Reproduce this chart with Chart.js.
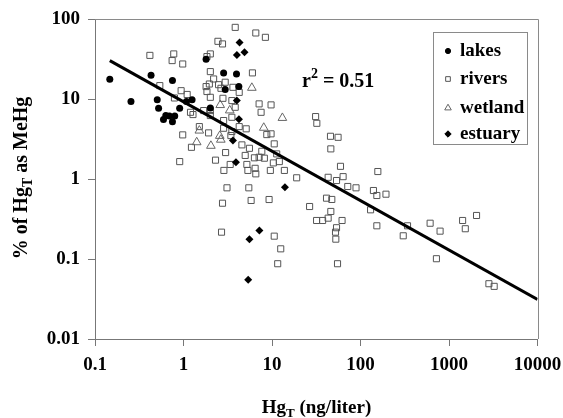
<!DOCTYPE html>
<html><head><meta charset="utf-8">
<script src="https://cdn.jsdelivr.net/npm/chart.js@4/dist/chart.umd.min.js"></script>
<style>html,body{margin:0;padding:0;background:#fff;}#wrap{width:563px;height:418px;position:relative;}</style>
</head><body><div id="wrap"><canvas id="c" width="563" height="418"></canvas></div>
<script>
const seriesNames = ['lakes', 'rivers', 'wetland', 'estuary'];

const lakesX = [0.147, 0.255, 0.43, 0.505, 0.523, 0.594, 0.631, 0.693, 0.75, 0.796, 0.75, 0.905, 1.08, 1.25, 1.8, 2.84, 3.97, 2.96, 4.22, 2.01];
const lakesY = [17.6, 9.3, 19.8, 9.8, 7.65, 5.53, 6.2, 6.15, 5.18, 6.15, 17, 7.65, 9.3, 9.8, 31.4, 21.2, 20.6, 13.1, 14.3, 7.74];

const riversX = [3.84, 6.56, 8.42, 2.45, 2.76, 2.01, 1.84, 0.417, 0.776, 0.744, 0.98, 6.01, 2.01, 2.19, 1.96, 2.49, 2.96, 2.65, 1.80, 3.62,
  4.26, 1.84, 2.01, 2.79, 3.52, 3.84, 7.15, 9.76, 7.53, 2.01, 2.01, 2.84, 3.52, 1.28, 0.54, 0.94, 1.10, 0.79, 1.20, 1.51,
  1.69, 0.98, 1.23, 0.906, 1.92, 2.84, 4.26, 5.11, 3.52, 3.43, 4.57, 2.99, 2.30, 3.37, 2.86, 5.56, 4.98, 6.33, 5.20, 5.34,
  6.45, 6.56, 8.2, 9.58, 10.36, 8.73, 9.76, 10.6, 11.3, 7.67, 7.15, 3.10, 5.47, 2.76, 5.81, 9.27, 2.69, 10.6, 12.55, 11.6,
  12.1, 13.8, 19.0, 31.1, 32.1, 45.8, 55.8, 46.2, 59.4, 63.6, 53.6, 43.1, 71.8, 89, 157, 140, 153, 194, 130, 41.3,
  47.4, 26.6, 46.2, 31.9, 37.3, 43.1, 61.9, 53.6, 52.2, 52.6, 55, 153, 304, 340, 612, 793, 1425, 1528, 2048, 721,
  2824, 3239];
const riversY = [78.6, 66.9, 59, 52.6, 48.8, 36.6, 33.9, 35.1, 36.6, 30.2, 27.4, 21.2, 22, 17.8, 15.4, 15.1, 16.2, 13.6, 14.3, 14.0,
  12.1, 12.4, 10.5, 10.2, 9.55, 7.88, 8.69, 8.44, 6.82, 7.17, 6.21, 5.38, 5.91, 6.39, 14.7, 12.7, 11.4, 10.3, 6.82, 4.52,
  7.17, 3.56, 2.49, 1.65, 3.77, 4.31, 4.52, 4.24, 3.92, 3.49, 2.67, 2.14, 1.72, 1.52, 1.28, 2.42, 1.97, 1.84, 1.52, 1.28,
  1.36, 1.16, 1.82, 1.28, 1.59, 3.59, 3.67, 2.75, 2.06, 2.22, 1.87, 0.776, 0.776, 0.498, 0.539, 0.554, 0.2165, 0.193, 0.134, 0.0873,
  1.65, 1.28, 1.035, 6.03, 4.97, 3.42, 3.32, 2.38, 1.44, 1.07, 0.957, 1.05, 0.806, 0.776, 1.24, 0.718, 0.622, 0.646, 0.412, 0.576,
  0.555, 0.453, 0.393, 0.303, 0.303, 0.324, 0.303, 0.246, 0.2165, 0.177, 0.0873, 0.26, 0.195, 0.26, 0.28, 0.223, 0.303, 0.239, 0.35, 0.1008,
  0.0491, 0.0455];

const wetlandX = [5.92, 2.6, 3.33, 13.1, 8.07, 1.51, 1.41, 2.04, 2.57, 2.64];
const wetlandY = [13.8, 8.4, 7.2, 5.8, 4.37, 4.03, 2.88, 2.6, 3.46, 3.1];

const estuaryX = [4.3, 4.01, 4.89, 4.0, 4.23, 3.62, 3.91, 14.0, 7.2, 5.56, 5.38];
const estuaryY = [51, 35.6, 38.3, 9.55, 5.58, 3.03, 1.62, 0.79, 0.227, 0.177, 0.055];

const regressionX = [0.147, 10000];
const regressionY = [30.2, 0.0313];

const xTickValues = [0.1, 1, 10, 100, 1000, 10000];
const xTickLabels = ['0.1', '1', '10', '100', '1000', '10000'];
const yTickValues = [0.01, 0.1, 1, 10, 100];
const yTickLabels = ['0.01', '0.1', '1', '10', '100'];

const xTitleParts = [['Hg', 0], ['T', 1], [' (ng/liter)', 0]];
const yTitleParts = [['% of Hg', 0], ['T', 1], [' as MeHg', 0]];
const r2Parts = [['r', 0], ['2', 2], [' = 0.51', 0]];

const pts = (xs, ys) => xs.map((x, i) => ({ x: x, y: ys[i] }));
const FONT = 'Liberation Serif';

function drawParts(ctx, parts, x, y, size, align) {
  const big = 'bold ' + size + 'px "' + FONT + '"';
  const small = 'bold ' + Math.round(size * 0.68) + 'px "' + FONT + '"';
  let total = 0;
  const widths = parts.map(p => { ctx.font = p[1] ? small : big; const w = ctx.measureText(p[0]).width; total += w; return w; });
  let cx = align === 'center' ? x - total / 2 : x;
  ctx.textBaseline = 'middle';
  ctx.textAlign = 'left';
  parts.forEach((p, i) => {
    ctx.font = p[1] ? small : big;
    const dy = p[1] === 1 ? size * 0.3 : (p[1] === 2 ? -size * 0.38 : 0);
    ctx.fillText(p[0], cx, y + dy);
    cx += widths[i];
  });
}

const decor = {
  id: 'decor',
  beforeDatasetsDraw(chart) {
    const ctx = chart.ctx, a = chart.chartArea;
    ctx.save();
    ctx.strokeStyle = '#8a8a8a';
    ctx.lineWidth = 1;
    ctx.beginPath();
    ctx.moveTo(a.left, Math.round(a.top) + 0.5);
    ctx.lineTo(Math.round(a.right) + 0.5, Math.round(a.top) + 0.5);
    ctx.lineTo(Math.round(a.right) + 0.5, a.bottom);
    ctx.stroke();
    ctx.restore();
  },
  afterDraw(chart) {
    const ctx = chart.ctx;
    ctx.save();
    ctx.fillStyle = '#000';
    drawParts(ctx, xTitleParts, 316.5, 408, 19, 'center');
    drawParts(ctx, r2Parts, 302, 82, 20, 'left');
    ctx.save();
    ctx.translate(22, 178);
    ctx.rotate(-Math.PI / 2);
    drawParts(ctx, yTitleParts, 0, 0, 20, 'center');
    ctx.restore();
    ctx.strokeStyle = '#8a8a8a';
    ctx.lineWidth = 1;
    ctx.strokeRect(433.5, 32.5, 94, 112);
    const rowsY = [51, 79, 108, 134];
    chart.data.datasets.slice(0, 4).forEach((ds, i) => {
      const y = rowsY[i];
      ctx.save();
      ctx.fillStyle = ds.pointBackgroundColor;
      ctx.strokeStyle = ds.pointBorderColor;
      ctx.lineWidth = 1;
      Chart.helpers.drawPoint(ctx, { pointStyle: ds.pointStyle, rotation: 0, radius: ds.legendRadius, borderWidth: 1 }, 448, y);
      ctx.restore();
      ctx.fillStyle = '#000';
      ctx.font = 'bold 19px "' + FONT + '"';
      ctx.textBaseline = 'middle';
      ctx.textAlign = 'left';
      ctx.fillText(ds.label, 460, y);
    });
    ctx.restore();
  }
};

const tickFont = { family: FONT, size: 19, weight: 'bold' };

new Chart(document.getElementById('c'), {
  type: 'scatter',
  data: {
    datasets: [
      { label: seriesNames[0], data: pts(lakesX, lakesY), pointStyle: 'circle', pointRadius: 3.5, legendRadius: 2.6,
        pointBackgroundColor: '#000', pointBorderColor: '#000', pointBorderWidth: 0, order: 2 },
      { label: seriesNames[1], data: pts(riversX, riversY), pointStyle: 'rect', pointRadius: 4.3, legendRadius: 3.3,
        pointBackgroundColor: 'rgba(0,0,0,0)', pointBorderColor: '#555', pointBorderWidth: 1, order: 4 },
      { label: seriesNames[2], data: pts(wetlandX, wetlandY), pointStyle: 'triangle', pointRadius: 5, legendRadius: 3.8,
        pointBackgroundColor: 'rgba(0,0,0,0)', pointBorderColor: '#666', pointBorderWidth: 1, order: 3 },
      { label: seriesNames[3], data: pts(estuaryX, estuaryY), pointStyle: 'rectRot', pointRadius: 4, legendRadius: 3.2,
        pointBackgroundColor: '#000', pointBorderColor: '#000', pointBorderWidth: 0, order: 1 },
      { label: 'fit', type: 'line', data: pts(regressionX, regressionY), showLine: true, borderColor: '#000', borderWidth: 3,
        pointRadius: 0, fill: false, order: 0 }
    ]
  },
  options: {
    responsive: false,
    animation: false,
    devicePixelRatio: 1,
    layout: { padding: { top: 19, right: 25.5, left: 0, bottom: 0 } },
    plugins: { legend: { display: false }, tooltip: { enabled: false } },
    scales: {
      x: {
        type: 'logarithmic', position: 'bottom', min: 0.1, max: 10000,
        afterBuildTicks: s => { s.ticks = xTickValues.map(v => ({ value: v })); },
        afterFit: s => { s.height = 79; s.paddingLeft = 0; s.paddingRight = 0; },
        ticks: { callback: (v, i) => xTickLabels[i], font: tickFont, color: '#000', padding: 8, maxRotation: 0, autoSkip: false },
        grid: { drawOnChartArea: false, drawTicks: true, tickLength: 7, color: '#777' },
        border: { color: '#777', width: 1 }
      },
      y: {
        type: 'logarithmic', position: 'left', min: 0.01, max: 100,
        afterBuildTicks: s => { s.ticks = yTickValues.map(v => ({ value: v })); },
        afterFit: s => { s.width = 95; s.paddingTop = 0; s.paddingBottom = 0; },
        ticks: { callback: (v, i) => yTickLabels[i], font: tickFont, color: '#000', padding: 8, autoSkip: false },
        grid: { drawOnChartArea: false, drawTicks: true, tickLength: 7, color: '#777' },
        border: { color: '#777', width: 1 }
      }
    }
  },
  plugins: [decor]
});
</script></body></html>
